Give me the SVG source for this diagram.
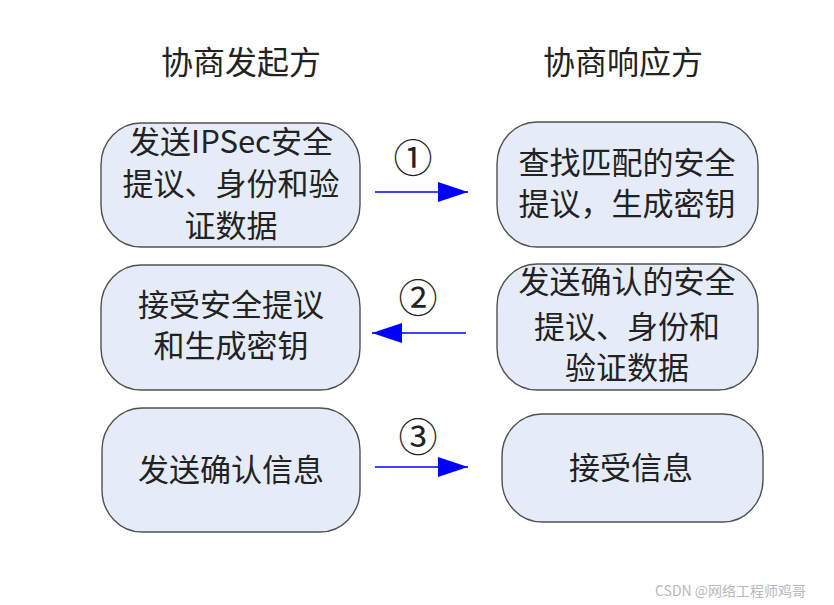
<svg xmlns="http://www.w3.org/2000/svg" width="834" height="605" viewBox="0 0 834 605">
<style>
.box{fill:#e6ecf7;stroke:#505050;stroke-width:1.4}
.t{font-family:"Noto Sans CJK SC","Liberation Sans",sans-serif;font-size:31px;fill:#222;text-anchor:middle}
.h{font-family:"Noto Sans CJK SC","Liberation Sans",sans-serif;font-size:32px;fill:#222;text-anchor:middle}
.n{font-family:"Noto Sans CJK SC","DejaVu Sans",sans-serif;font-size:39px;fill:#222;text-anchor:middle}
.c{stroke:#0000ff;stroke-width:1.6;fill:none}
.wm{font-family:"Noto Sans CJK SC","Liberation Sans",sans-serif;font-size:14px;fill:#b8b8b8}
</style>
<defs>
<marker id="ah" viewBox="0 0 30 20" refX="30" refY="10" markerWidth="30" markerHeight="20" markerUnits="userSpaceOnUse" orient="auto">
<path d="M0,0 L30,10 L0,20 Z" fill="#0000ff"/>
</marker>
</defs>
<rect width="834" height="605" fill="#ffffff"/>
<g id="header-left"><text class="h" x="241" y="74">协商发起方</text></g>
<g id="header-right"><text class="h" x="623" y="74">协商响应方</text></g>

<g id="n1">
<rect class="box" x="101" y="123" width="259" height="124" rx="40" ry="42"/>
<text class="t" x="231" y="153">发送IPSec安全</text>
<text class="t" x="231" y="195">提议、身份和验</text>
<text class="t" x="231" y="237">证数据</text>
</g>
<g id="n2">
<rect class="box" x="101" y="265" width="259" height="125" rx="40" ry="42"/>
<text class="t" x="231" y="316">接受安全提议</text>
<text class="t" x="231" y="357">和生成密钥</text>
</g>
<g id="n3">
<rect class="box" x="102" y="408" width="258" height="124" rx="40" ry="42"/>
<text class="t" x="231" y="481">发送确认信息</text>
</g>
<g id="n4">
<rect class="box" x="497" y="122" width="261" height="125" rx="40" ry="42"/>
<text class="t" x="627" y="174">查找匹配的安全</text>
<text class="t" x="627" y="215">提议，生成密钥</text>
</g>
<g id="n5">
<rect class="box" x="497" y="264" width="261" height="126" rx="40" ry="42"/>
<text class="t" x="627" y="293">发送确认的安全</text>
<text class="t" x="627" y="338">提议、身份和</text>
<text class="t" x="627" y="379">验证数据</text>
</g>
<g id="n6">
<rect class="box" x="502" y="414" width="261" height="108" rx="40" ry="42"/>
<text class="t" x="631" y="479">接受信息</text>
</g>

<g id="connectors">
<line class="c" x1="375" y1="192" x2="468" y2="192" marker-end="url(#ah)"/>
<line class="c" x1="466" y1="333" x2="372" y2="333" marker-end="url(#ah)"/>
<line class="c" x1="375" y1="467" x2="468" y2="467" marker-end="url(#ah)"/>
<text class="n" x="413" y="172">①</text>
<text class="n" x="418" y="312">②</text>
<text class="n" x="418" y="451">③</text>
</g>
<text class="wm" x="655" y="596">CSDN @网络工程师鸡哥</text>
</svg>
